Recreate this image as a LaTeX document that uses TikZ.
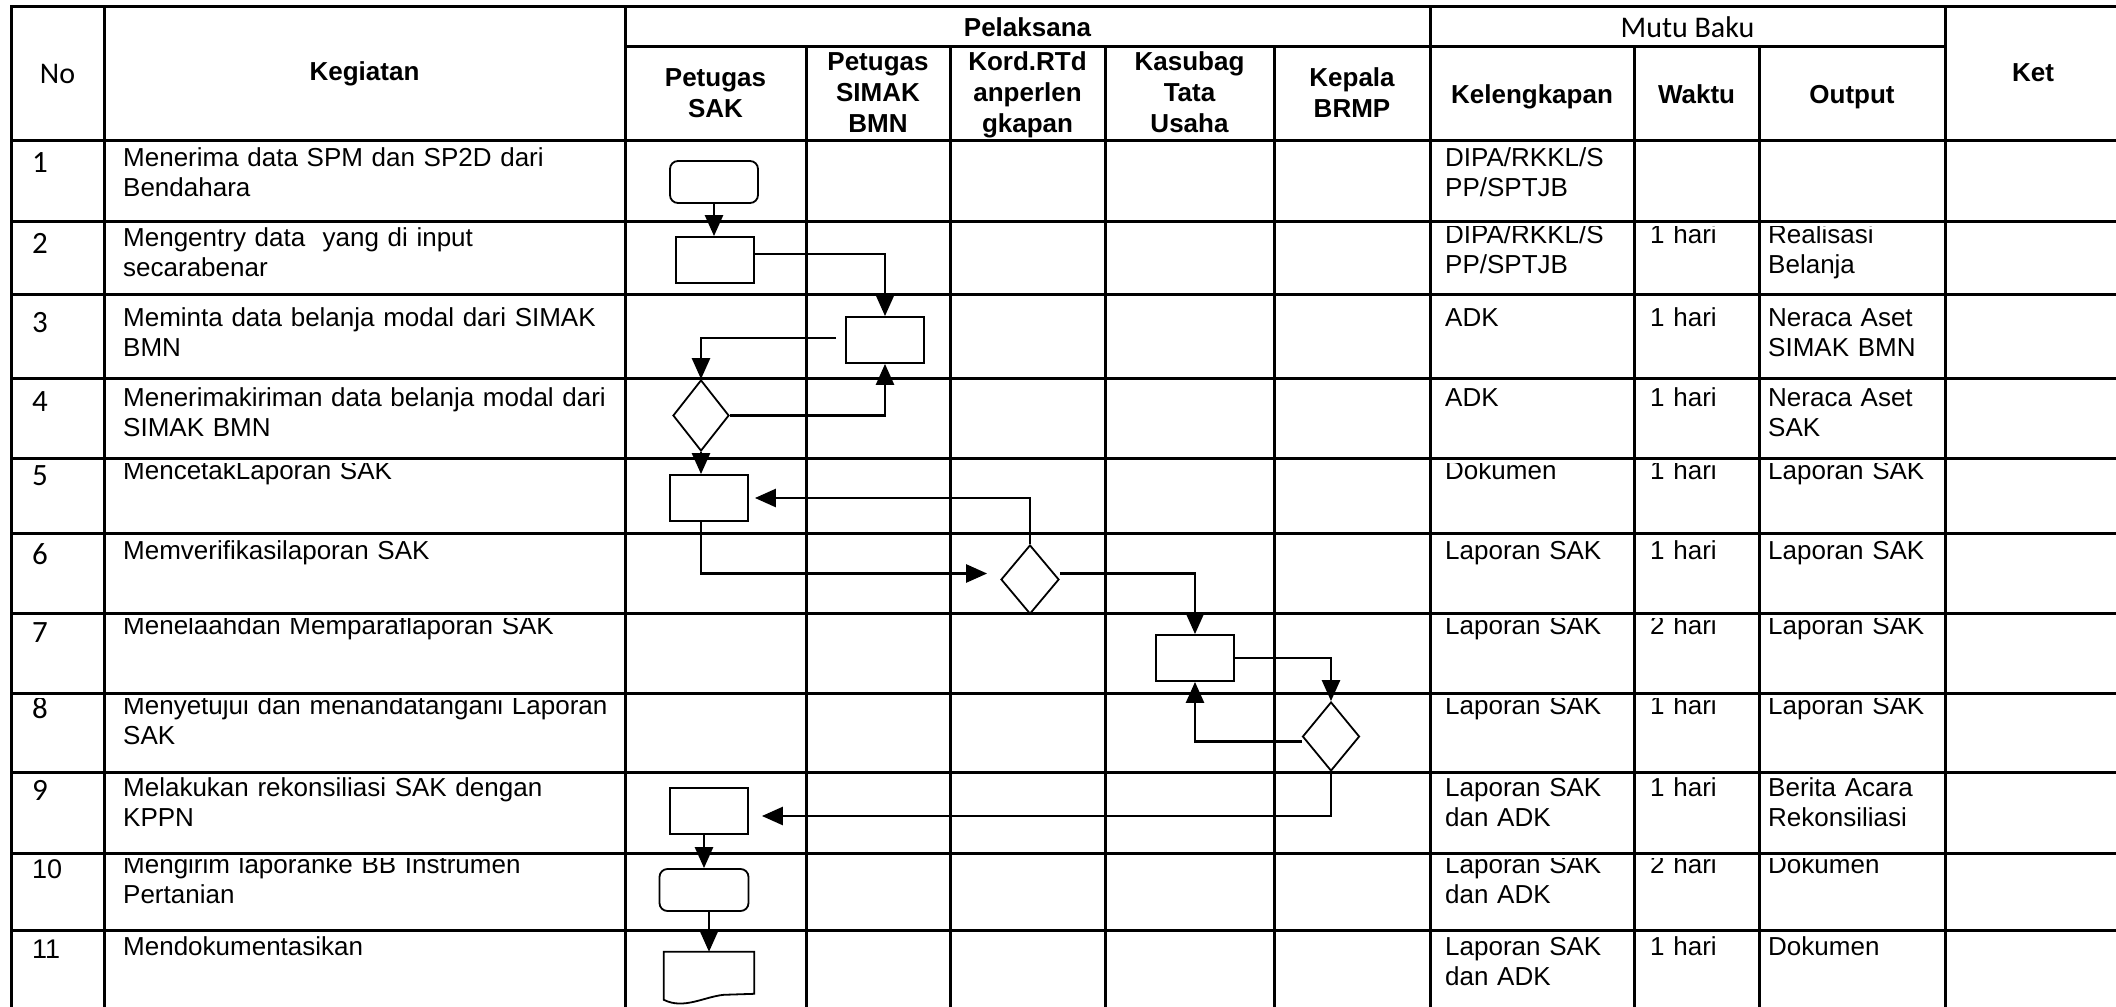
\documentclass[tikz,border=0pt]{standalone}
\usepackage{fontspec}
\setmainfont{Liberation Sans}
\newfontfamily\calibfont{Carlito}
\usetikzlibrary{arrows.meta,calc,shapes.geometric}
\begin{document}
\begin{tikzpicture}[x=1pt,y=-1pt,
  gridline/.style={line width=3pt, line cap=rect},
  shp/.style={draw, line width=1.8pt, fill=white, inner sep=0pt},
  proc/.style={shp, rectangle, minimum width=78pt, minimum height=46pt},
  term/.style={shp, rectangle, rounded corners=8pt, minimum width=88pt, minimum height=42pt},
  dec/.style={shp, diamond, minimum width=57pt, minimum height=70pt},
  conn/.style={line width=2.6pt, -{Triangle[length=21pt,width=18pt]}},
  bt/.style={anchor=base west, inner sep=0pt, align=left, font=\fontsize{26}{30}\selectfont},
  kg/.style={bt, text width=500pt},
  kl/.style={bt, text width=185pt},
  wk/.style={bt, text width=105pt},
  op/.style={bt, text width=175pt},
  nm/.style={anchor=base west, inner sep=0pt, font=\calibfont\fontsize{31}{30}\selectfont},
  nmb/.style={anchor=base west, inner sep=0pt, font=\fontsize{27}{30}\selectfont},
  hd/.style={anchor=base, inner sep=0pt, align=center, font=\bfseries\fontsize{26}{31}\selectfont}
]
\useasboundingbox (0,0) rectangle (2116,1006);

% ---------- header texts ----------
\node[anchor=base, inner sep=0pt, font=\calibfont\fontsize{30}{31}\selectfont] (hNo) at (57.5,84) {No};
\node[hd, text width=300pt] (hKeg) at (364.5,81) {Kegiatan};
\node[hd, text width=400pt] (hPel) at (1027.5,37) {Pelaksana};
\node[anchor=base, inner sep=0pt, font=\calibfont\fontsize{30}{31}\selectfont] (hMutu) at (1687.5,38) {Mutu Baku};
\node[hd, text width=150pt] (hKet) at (2033,82) {Ket};
\node[hd, text width=175pt] (hSAK) at (715.5,87) {Petugas\\SAK};
\node[hd, text width=140pt] (hSIMAK) at (878,71) {Petugas\\SIMAK\\BMN};
\node[hd, text width=150pt] (hKord) at (1027.5,71) {Kord.RTd\\anperlen\\gkapan};
\node[hd, text width=165pt] (hKas) at (1189.5,71) {Kasubag\\Tata\\Usaha};
\node[hd, text width=150pt] (hKep) at (1352,87) {Kepala\\BRMP};
\node[hd, text width=200pt] (hKel) at (1532,103) {Kelengkapan};
\node[hd, text width=120pt] (hWak) at (1696.5,103) {Waktu};
\node[hd, text width=180pt] (hOut) at (1852,103) {Output};

% ---------- row numbers ----------
\node[nm] (n1) at (32,172) {1};
\node[nm] (n2) at (32,253) {2};
\node[nm] (n3) at (32,332) {3};
\node[nm] (n4) at (32,411) {4};
\node[nm] (n5) at (32,485) {5};
\node[nm] (n6) at (32,564) {6};
\node[nm] (n7) at (32,642) {7};
\node[nm] (n8) at (32,718) {8};
\node[nm] (n9) at (32,800) {9};
\node[nmb] (n10) at (32,878) {10};
\node[nmb] (n11) at (32,958) {11};

% ---------- Kegiatan ----------
\node[kg] (k1) at (123,166) {Menerima data SPM dan SP2D dari\\Bendahara};
\node[kg] (k2) at (123,246) {Mengentry data~ yang di input\\secarabenar};
\node[kg] (k3) at (123,326) {Meminta data belanja modal dari SIMAK\\BMN};
\node[kg] (k4) at (123,406) {Menerimakiriman data belanja modal dari\\SIMAK BMN};
\node[kg] (k5) at (123,479) {MencetakLaporan SAK};
\node[kg] (k6) at (123,559) {Memverifikasilaporan SAK};
\node[kg] (k7) at (123,634) {Menelaahdan Memparaflaporan SAK};
\node[kg] (k8) at (123,714) {Menyetujui dan menandatangani Laporan\\SAK};
\node[kg] (k9) at (123,796) {Melakukan rekonsiliasi SAK dengan\\KPPN};
\node[kg] (k10) at (123,873) {Mengirim laporanke BB Instrumen\\Pertanian};
\node[kg] (k11) at (123,955) {Mendokumentasikan};

% ---------- Kelengkapan ----------
\node[kl] (l1) at (1445,166) {DIPA/RKKL/S\\PP/SPTJB};
\node[kl] (l2) at (1445,243) {DIPA/RKKL/S\\PP/SPTJB};
\node[kl] (l3) at (1445,326) {ADK};
\node[kl] (l4) at (1445,406) {ADK};
\node[kl] (l5) at (1445,479) {Dokumen};
\node[kl] (l6) at (1445,559) {Laporan SAK};
\node[kl] (l7) at (1445,634) {Laporan SAK};
\node[kl] (l8) at (1445,714) {Laporan SAK};
\node[kl] (l9) at (1445,796) {Laporan SAK\\dan ADK};
\node[kl] (l10) at (1445,873) {Laporan SAK\\dan ADK};
\node[kl] (l11) at (1445,955) {Laporan SAK\\dan ADK};

% ---------- Waktu ----------
\node[wk] (w2) at (1650,243) {1 hari};
\node[wk] (w3) at (1650,326) {1 hari};
\node[wk] (w4) at (1650,406) {1 hari};
\node[wk] (w5) at (1650,479) {1 hari};
\node[wk] (w6) at (1650,559) {1 hari};
\node[wk] (w7) at (1650,634) {2 hari};
\node[wk] (w8) at (1650,714) {1 hari};
\node[wk] (w9) at (1650,796) {1 hari};
\node[wk] (w10) at (1650,873) {2 hari};
\node[wk] (w11) at (1650,955) {1 hari};

% ---------- Output ----------
\node[op] (o2) at (1768,243) {Realisasi\\Belanja};
\node[op] (o3) at (1768,326) {Neraca Aset\\SIMAK BMN};
\node[op] (o4) at (1768,406) {Neraca Aset\\SAK};
\node[op] (o5) at (1768,479) {Laporan SAK};
\node[op] (o6) at (1768,559) {Laporan SAK};
\node[op] (o7) at (1768,634) {Laporan SAK};
\node[op] (o8) at (1768,714) {Laporan SAK};
\node[op] (o9) at (1768,796) {Berita Acara\\Rekonsiliasi};
\node[op] (o10) at (1768,873) {Dokumen};
\node[op] (o11) at (1768,955) {Dokumen};

% cell top padding (text clipped under row lines)
\foreach \yy in {221,294,378,458,533,613,693,772,853,930}
  \fill[white] (13,\yy) rectangle (2116,\yy+4.5);

% ---------- grid ----------
\draw[gridline] (11,7) -- (2116,7);
\draw[gridline] (625,47) -- (1945,47);
\foreach \yy in {140,221,294,378,458,533,613,693,772,853,930}
  \draw[gridline] (11,\yy) -- (2116,\yy);
\foreach \xx in {11,104,625,1430,1945}
  \draw[gridline] (\xx,7) -- (\xx,1006);
\foreach \xx in {806,950,1105,1274,1634,1759}
  \draw[gridline] (\xx,47) -- (\xx,1006);

% ---------- flowchart shapes ----------
\node[term] (T1) at (714,182) {};
\node[proc] (P2) at (715,260) {};
\node[proc] (P3) at (885,340) {};
\node[dec, minimum width=56pt, minimum height=71pt] (D4) at (701,415.5) {};
\node[proc] (P5) at (709,498) {};
\node[dec, minimum width=58pt, minimum height=69pt] (D6) at (1030,579.5) {};
\node[proc] (P7) at (1195,658) {};
\node[dec, minimum width=57pt, minimum height=69pt] (D8) at (1331,736.5) {};
\node[proc] (P9) at (709,811) {};
\node[term, minimum width=89pt] (T10) at (704,890) {};
\node[inner sep=0pt, minimum width=90pt, minimum height=48pt] (Doc) at (709,976) {};
\draw[line width=1.8pt, fill=white, line join=miter]
  ($(Doc.north east)+(0,42)$) -- (Doc.north east) -- (Doc.north west)
  -- ($(Doc.north west)+(0,48)$)
  .. controls ($(Doc.north west)+(20,58)$) and ($(Doc.north west)+(40,45)$) .. ($(Doc.north west)+(60,43)$)
  -- cycle;

% ---------- connectors ----------
\draw[conn] (T1.south) -- (T1.south |- P2.north);
\draw[conn] ([yshift=6pt]P2.east) -| (P3.north);
\draw[conn, shorten <=9pt] ([yshift=2pt]P3.west) -| (D4.north);
\draw[conn] (D4.east) -| (P3.south);
\draw[conn] (D4.south) -- (D4.south |- P5.north);
\draw[conn, shorten >=6pt] (D6.north) |- (P5.east);
\draw[conn, shorten >=13pt] ([xshift=-8pt]P5.south) |- ([yshift=6pt]D6.west);
\draw[conn] ([yshift=6pt]D6.east) -| (P7.north);
\draw[conn] (P7.east) -| (D8.north);
\draw[conn] ([yshift=-5pt]D8.west) -| (P7.south);
\draw[conn, shorten >=13pt] (D8.south) |- ([yshift=-5pt]P9.east);
\draw[conn] (T10.north |- P9.south) -- (T10.north);
\draw[conn] (Doc.north |- T10.south) -- (Doc.north);
\end{tikzpicture}
\end{document}
